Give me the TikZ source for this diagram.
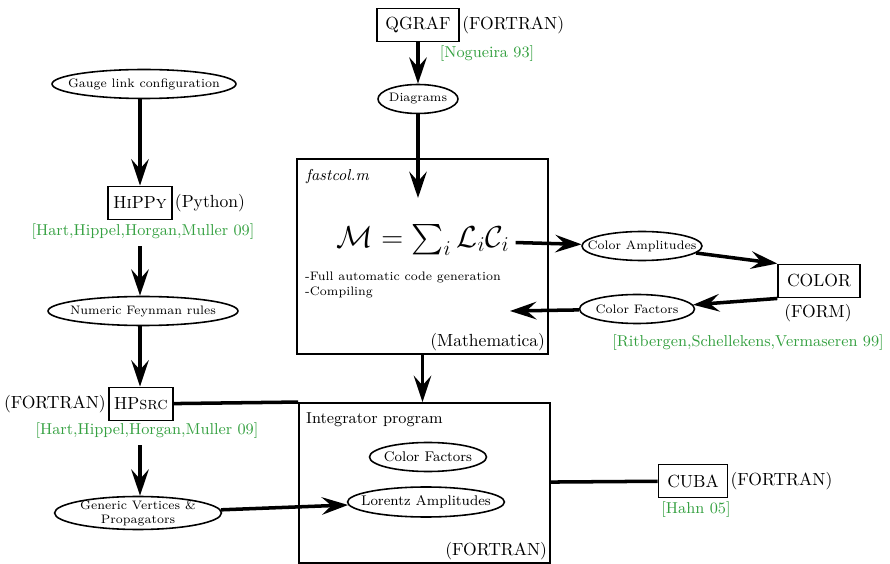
\documentclass[tikz,border=0pt]{standalone}
\usepackage{amsmath}
\usepackage{amsfonts}
\usepackage{amssymb}
\usepackage{tikz}
\usetikzlibrary{shapes,arrows.meta}

\definecolor{refgreen}{RGB}{52,160,64}
\tikzset{
	prog/.style={rectangle,draw,line width=1.1pt,inner xsep=5pt,minimum height=0.66cm},
	oval/.style={ellipse,draw,line width=0.9pt,inner sep=0pt,minimum height=0.58cm},
	stage/.style={rectangle,draw,line width=1.1pt,inner sep=0pt},
	flow/.style={-{Stealth[length=15pt,width=10pt,inset=5.5pt]},line width=2pt},
	link/.style={line width=2pt},
	cite/.style={text=refgreen,font=\small},
}

\begin{document}
\begin{tikzpicture}[x=0.02cm,y=-0.02cm]
	
		\useasboundingbox (0,0) rectangle (890,564);
		
		\node[prog] (qgraf) at (418,25) {QGRAF};
		\node[anchor=west,inner sep=1pt] (qgrafl) at (qgraf.east) {(FORTRAN)};
		\node[cite] (qgrafc) at (487,54) {[Nogueira 93]};
		\node[oval,minimum width=1.6cm,label={[font=\scriptsize]center:Diagrams}] (diag) at (418,99) {};
		\coordinate (diagin) at (418,198);
		
		\node[stage,minimum width=5.02cm,minimum height=3.9cm] (fastcol) at (422.5,256.5) {};
		\node[anchor=north west,font=\small\itshape] (fastcoln) at (300,163) {fastcol.m};
		\node[font=\LARGE] (amp) at (423,240) {$\mathcal{M}=\sum_i\mathcal{L}_i\mathcal{C}_i$};
		\node[anchor=west,font=\scriptsize,align=left] (notes) at (299,285) {-Full automatic code generation\\-Compiling};
		\node[anchor=south east,inner sep=2pt] (mathl) at (fastcol.south east) {(Mathematica)};
		
		\node[oval,minimum width=2.4cm,label={[font=\scriptsize]center:Color Amplitudes}] (camp) at (642,246) {};
		\node[prog] (color) at (819,281) {COLOR};
		\node (forml) at (818,313) {(FORM)};
		\node[cite] (colorc) at (748,343) {[Ritbergen,Schellekens,Vermaseren 99]};
		\node[oval,minimum width=2.3cm,label={[font=\scriptsize]center:Color Factors}] (cfac) at (637,309) {};
		\coordinate (cfacin) at (510,311);
		
		\node[stage,minimum width=5.02cm,minimum height=3.2cm] (integ) at (424.5,483) {};
		\node[anchor=north west,font=\small] (integn) at (300,406) {Integrator program};
		\node[anchor=south east,inner sep=2pt] (integl) at (integ.south east) {(FORTRAN)};
		\node[oval,minimum width=2.34cm,minimum height=0.58cm,label={[font=\footnotesize]center:Color Factors}] (icfac) at (428,457) {};
		\node[oval,minimum width=3.14cm,minimum height=0.6cm,label={[font=\footnotesize]center:Lorentz Amplitudes}] (lor) at (426,502) {};
		
		\node[prog] (cuba) at (693,481) {CUBA};
		\node[anchor=west,inner sep=1pt] (cubal) at (cuba.east) {(FORTRAN)};
		\node[cite] (cubac) at (696,510) {[Hahn 05]};
		
		\node[oval,minimum width=3.68cm,label={[font=\scriptsize]center:Gauge link configuration}] (gauge) at (144,84) {};
		\node[prog,inner xsep=3pt] (hippy) at (140,203) {H\textsc{i}PP\textsc{y}};
		\node[anchor=west,inner sep=1pt] (hippyl) at (hippy.east) {(Python)};
		\node[cite] (hippyc) at (143,232) {[Hart,Hippel,Horgan,Muller 09]};
		\node[oval,minimum width=3.8cm,label={[font=\scriptsize]center:Numeric Feynman rules}] (feyn) at (143,311) {};
		\node[prog,inner xsep=3pt] (hpsrc) at (141,404) {HP\textsc{src}};
		\node[anchor=east,inner sep=1pt] (hpsrcl) at (hpsrc.west) {(FORTRAN)};
		\node[cite] (hpsrcc) at (147,431) {[Hart,Hippel,Horgan,Muller 09]};
		\node[oval,minimum width=3.34cm,minimum height=0.66cm,label={[font=\scriptsize,align=center]center:{Generic Vertices \&\\Propagators}}] (gen) at (138,513) {};
		
		\path[flow] (qgraf) edge (diag);
		\path[flow] (diag) edge (diagin);
		\path[flow] (amp) edge (camp);
		\path[flow] (camp) edge (color.north west);
		\path[flow] (color.south west) edge (cfac);
		\path[flow] (cfac) edge (cfacin);
		\path[flow] (fastcol.south) edge (fastcol.south |- integ.north);
		\path[flow] (gauge.south -| hippy.north) edge (hippy.north);
		\path[flow] (hippyc.south -| hippy.south) edge (feyn.north -| hippy.south);
		\path[flow] (feyn.south -| hippy.south) edge (hpsrc.north -| hippy.south);
		\path[flow] (hpsrcc.south -| hippy.south) edge (gen.north -| hippy.south);
		\path[flow] (gen) edge (lor);
		\path[link] (hpsrc) edge (integ.north west);
		\path[link] (integ) edge (cuba);
		
	\end{tikzpicture}
\end{document}
